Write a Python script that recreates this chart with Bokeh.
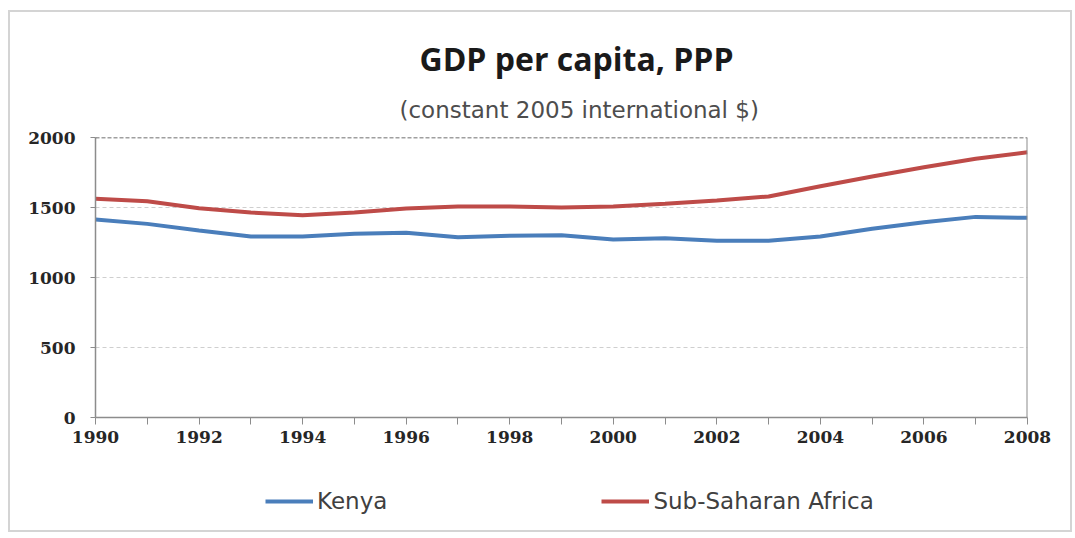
from bokeh.plotting import figure
from bokeh.layouts import column
from bokeh.models import (ColumnDataSource, FixedTicker, Range1d, Span, Title,
                          Legend, LegendItem)
from bokeh.embed import file_html
from bokeh.resources import INLINE

years = list(range(1990, 2009))
kenya = [1414, 1383, 1336, 1293, 1293, 1312, 1319, 1288, 1298, 1302,
         1271, 1281, 1262, 1262, 1293, 1348, 1395, 1433, 1426]
ssa = [1562, 1545, 1495, 1464, 1445, 1464, 1493, 1507, 1507, 1500,
       1507, 1526, 1550, 1579, 1652, 1721, 1788, 1848, 1895]
y_ticks = [0, 500, 1000, 1500, 2000]
x_label_ticks = list(range(1990, 2009, 2))
x_minor_ticks = list(range(1991, 2009, 2))
title_text = "GDP per capita, PPP"
subtitle_text = "(constant 2005 international $)"
series_names = ["Kenya", "Sub-Saharan Africa"]
colors = ["#4A7EBB", "#BE4B48"]

src = ColumnDataSource(dict(year=years, kenya=kenya, ssa=ssa))

W = 1060
p = figure(output_backend="svg", toolbar_location=None,
           frame_width=932, frame_height=280,
           min_border_left=85, min_border_right=43,
           min_border_top=125, min_border_bottom=45,
           x_range=Range1d(1990, 2008), y_range=Range1d(0, 2000))
p.outline_line_color = None
p.background_fill_color = "white"
p.border_fill_color = "white"

for ax in (p.xaxis[0], p.yaxis[0]):
    ax.axis_line_color = "#8c8c8c"
    ax.axis_line_width = 1.5
    ax.major_tick_line_color = "#8c8c8c"
    ax.minor_tick_line_color = "#8c8c8c"
    ax.major_tick_in = 0
    ax.minor_tick_in = 0
    ax.major_label_text_font = "DejaVu Serif"
    ax.major_label_text_font_style = "bold"
    ax.major_label_text_font_size = "17px"
    ax.major_label_text_color = "#262626"

p.xaxis.ticker = FixedTicker(ticks=x_label_ticks, minor_ticks=x_minor_ticks)
p.xaxis.major_tick_out = 7
p.xaxis.minor_tick_out = 7
p.xaxis.major_label_standoff = 6

p.yaxis.ticker = FixedTicker(ticks=y_ticks, minor_ticks=[])
p.yaxis.major_tick_out = 5
p.yaxis.minor_tick_out = 0
p.yaxis.major_label_standoff = 15

p.xgrid.grid_line_color = None
p.ygrid.grid_line_color = "#cfcfcf"
p.ygrid.grid_line_dash = "4 3"
p.ygrid.grid_line_width = 1

p.add_layout(Span(location=2000, dimension="width", line_color="#404040",
                  line_dash="4 2", line_width=1.5))
p.add_layout(Span(location=2008, dimension="height", line_color="#8c8c8c",
                  line_width=2))

p.line("year", "kenya", source=src, line_color=colors[0], line_width=4)
p.line("year", "ssa", source=src, line_color=colors[1], line_width=4)

p.add_layout(Title(text=subtitle_text, align="left", offset=304,
                   text_font="DejaVu Sans", text_font_style="normal",
                   text_font_size="23px", text_color="#4d4d4d",
                   standoff=30), "above")
p.add_layout(Title(text=title_text, align="left", offset=324,
                   text_font="Open Sans", text_font_style="bold",
                   text_font_size="32px", text_color="#1a1a1a",
                   standoff=0), "above")

# legend strip below the chart (its frame aligns with the chart's frame)
H2 = 68
lg = figure(output_backend="svg", toolbar_location=None, width=W, height=H2,
            min_border=0, x_range=Range1d(0, 10), y_range=Range1d(0, 10))
lg.axis.visible = False
lg.grid.visible = False
lg.outline_line_color = None
lg.background_fill_color = "white"
lg.border_fill_color = "white"
# proxy renderers (outside the visible range) that only feed the legend
d1 = lg.line(x=[-20, -19], y=[-20, -20], line_color=colors[0], line_width=4)
d2 = lg.line(x=[-20, -19], y=[-20, -20], line_color=colors[1], line_width=4)
legend = Legend(items=[LegendItem(label=series_names[0], renderers=[d1]),
                       LegendItem(label=series_names[1], renderers=[d2])],
                orientation="horizontal", location=(170, 16),
                glyph_width=48, label_standoff=4, spacing=214,
                label_text_font="DejaVu Sans", label_text_font_size="23px",
                label_text_color="#404040", border_line_color=None,
                background_fill_alpha=0, padding=0, margin=0)
lg.add_layout(legend, "center")

layout = column(p, lg, spacing=0,
                styles={"border": "2px solid #d4d4d4", "margin-left": "8px",
                        "margin-top": "10px"})

open("out.html", "w").write(file_html(layout, INLINE))
